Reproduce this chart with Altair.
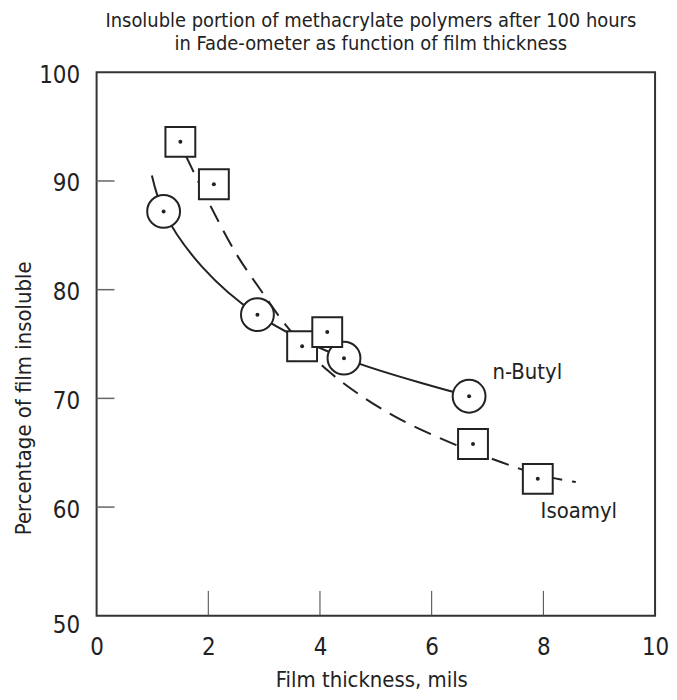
import altair as alt
import pandas as pd

FONT = "DejaVu Sans Condensed, Liberation Sans Narrow, sans-serif"
INK = "#222222"

# measured points
butyl_x = [1.20, 2.88, 4.43, 6.67]
butyl_y = [87.2, 77.7, 73.7, 70.2]
isoamyl_x = [1.50, 2.10, 3.68, 4.13, 6.74, 7.90]
isoamyl_y = [93.6, 89.7, 74.8, 76.1, 65.8, 62.6]

# curves
butyl_curve_x = [0.99, 1.20, 1.89, 2.88, 4.43, 6.67]
butyl_curve_y = [90.5, 87.2, 82.1, 77.7, 73.7, 70.2]
isoamyl_curve_x = [1.60, 2.00, 2.50, 2.94, 3.41, 4.13, 5.23, 6.42, 7.25, 7.90, 8.58]
isoamyl_curve_y = [92.3, 88.1, 83.3, 79.95, 76.6, 72.6, 68.65, 65.75, 64.13, 63.0, 62.3]

# series labels
label_text = ["n-Butyl", "Isoamyl"]
label_x = [7.09, 7.95]
label_y = [72.4, 59.6]

x_ticks = [0, 2, 4, 6, 8, 10]
y_ticks = [50, 60, 70, 80, 90, 100]
x_inner_ticks = [2, 4, 6, 8]
y_inner_ticks = [60, 70, 80, 90]

W, H = 561, 546

bx = pd.DataFrame({"x": butyl_x, "y": butyl_y})
ix = pd.DataFrame({"x": isoamyl_x, "y": isoamyl_y})
bc = pd.DataFrame({"x": butyl_curve_x, "y": butyl_curve_y})
ic = pd.DataFrame({"x": isoamyl_curve_x, "y": isoamyl_curve_y})
lab = pd.DataFrame({"t": label_text, "x": label_x, "y": label_y})
dots = pd.concat([bx, ix], ignore_index=True)

xs = alt.Scale(domain=[0, 10], nice=False)
ys = alt.Scale(domain=[50, 100], nice=False)

x_axis = alt.Axis(
    values=x_ticks, format="d", ticks=False, tickSize=0, domain=False, grid=False,
    labelFont=FONT, labelFontSize=24, labelColor=INK, labelPadding=20,
    labelFlush=False, labelOverlap=False, labelBound=False,
    title="Film thickness, mils", titleFont=FONT, titleFontSize=22,
    titleFontWeight="normal", titleColor=INK,
    titleX=276, titleY=71, titleAlign="center", titleBaseline="alphabetic",
)
y_axis = alt.Axis(
    values=y_ticks, format="d", ticks=False, tickSize=0, domain=False, grid=False,
    labelFont=FONT, labelFontSize=24, labelColor=INK, labelPadding=17,
    labelBaseline="middle",
    labelOffset={"condition": {"test": "datum.value == 50", "value": 10}, "value": 3},
    labelFlush=False, labelOverlap=False, labelBound=False,
    title="Percentage of film insoluble", titleFont=FONT, titleFontSize=22,
    titleFontWeight="normal", titleColor=INK,
    titleX=-73, titleY=327, titleAngle=-90, titleAlign="center", titleBaseline="middle",
)

base_x = alt.X("x:Q", scale=xs, axis=x_axis)
base_y = alt.Y("y:Q", scale=ys, axis=y_axis)

line_b = alt.Chart(bc).mark_line(color=INK, strokeWidth=2, interpolate="catmull-rom").encode(
    x=base_x, y=base_y)
line_i = alt.Chart(ic).mark_line(color=INK, strokeWidth=2, strokeDash=[18, 10],
                                 interpolate="catmull-rom").encode(
    x=alt.X("x:Q", scale=xs), y=alt.Y("y:Q", scale=ys))

circles = alt.Chart(bx).mark_point(shape="circle", size=1089, filled=False, fill="white",
                                   fillOpacity=1, stroke=INK, strokeWidth=2, opacity=1).encode(
    x=alt.X("x:Q", scale=xs), y=alt.Y("y:Q", scale=ys))
squares = alt.Chart(ix).mark_point(shape="square", size=900, filled=False, fill="white",
                                   fillOpacity=1, stroke=INK, strokeWidth=2, opacity=1).encode(
    x=alt.X("x:Q", scale=xs), y=alt.Y("y:Q", scale=ys))
centers = alt.Chart(dots).mark_point(shape="circle", size=16, filled=True, color=INK,
                                     opacity=1).encode(
    x=alt.X("x:Q", scale=xs), y=alt.Y("y:Q", scale=ys))

labels = alt.Chart(lab).mark_text(font=FONT, fontSize=22, color=INK, align="left",
                                  baseline="middle").encode(
    x=alt.X("x:Q", scale=xs), y=alt.Y("y:Q", scale=ys), text="t:N")

ytick_df = pd.DataFrame({"y": y_inner_ticks})
xtick_df = pd.DataFrame({"x": x_inner_ticks})
yticks = alt.Chart(ytick_df).mark_rule(color="#666666", strokeWidth=1.5).encode(
    y=alt.Y("y:Q", scale=ys), x=alt.value(0), x2=alt.value(18))
xticks = alt.Chart(xtick_df).mark_rule(color="#444444", strokeWidth=1).encode(
    x=alt.X("x:Q", scale=xs), y=alt.value(H), y2=alt.value(H - 25))

chart = alt.layer(line_b, line_i, yticks, xticks, circles, squares, centers, labels).properties(
    width=W, height=H,
    title=alt.TitleParams(
        text=["Insoluble portion of methacrylate polymers after 100 hours",
              "in Fade-ometer as function of film thickness"],
        font=FONT, fontSize=20, fontWeight="normal", color=INK,
        anchor="middle", frame="group", baseline="bottom", lineHeight=23, offset=16, dx=-5, dy=27,
    ),
    autosize=alt.AutoSizeParams(type="none"),
    padding={"left": 89, "top": 63, "right": 14, "bottom": 75},
).configure(background="white").configure_view(stroke="#333333", strokeWidth=2)

chart.save("out.html", embed_options={"renderer": "svg", "actions": False})
